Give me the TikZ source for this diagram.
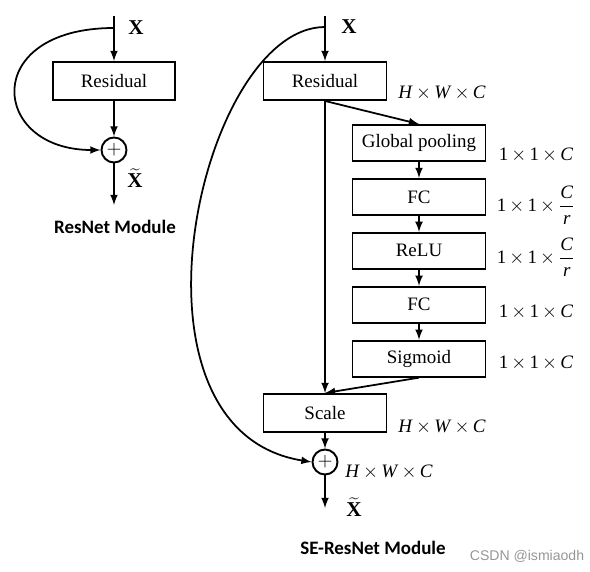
\documentclass[tikz,border=0pt]{standalone}
\usepackage{fontspec}
\setmainfont{Liberation Serif}
\newfontfamily\titlefont{Carlito}
\newfontfamily\markfont{Liberation Sans}
\usepackage{xcolor}
\usetikzlibrary{arrows,positioning,calc}
\definecolor{markgray}{RGB}{150,150,150}
\newcommand{\dimx}{\,$\times$\,}
\newcommand{\hwc}{\textit{H}\dimx\textit{W}\dimx\textit{C}}
\newcommand{\oneC}{1\dimx1\dimx\textit{C}}
\newcommand{\oneCr}{1\dimx1\dimx$\displaystyle\frac{\textit{C}}{\textit{r}}$}

\begin{document}
\begin{tikzpicture}[x=0.02cm,y=-0.02cm, line width=1pt, >=latex,
		font=\fontsize{10.8}{13}\selectfont,
		box/.style={rectangle, draw, line width=1.1pt, minimum height=0.76cm, inner sep=2pt},
		sebox/.style={box, minimum width=2.66cm, minimum height=0.72cm},
		sumnode/.style={circle, draw, line width=1.1pt, minimum size=0.5cm, inner sep=0pt},
		title/.style={font=\titlefont\bfseries\fontsize{10.8}{12}\selectfont}]
	\useasboundingbox (0,0) rectangle (590,571);
	
	% ResNet module
	\coordinate (ltop) at (114,16);
	\coordinate (lfork) at (114,28);
	\node[box, minimum width=2.44cm] (lres) at (114,81) {Residual};
	\node[sumnode] (lsum) at (114,150) {$+$};
	\coordinate (lend) at (114,205);
	\node[font=\fontsize{12}{14}\selectfont] (lx) at (136,28) {\textbf{X}};
	\node[font=\fontsize{12}{14}\selectfont, inner sep=1pt] (lxt) at (135,178) {$\widetilde{\textbf{X}}$};
	\node[title] (ltitle) at (115,227) {ResNet Module};
	
	\draw[->] (ltop) -- (lres);
	\draw[->] (lres) -- (lsum);
	\draw[->] (lsum) -- (lend);
	\draw[->] (lfork) .. controls (-20,28) and (-10,150) .. (lsum.west);
	
	% SE-ResNet module
	\coordinate (rtop) at (325,16);
	\coordinate (rfork) at (325,27);
	\node[box, minimum width=2.46cm] (rres) at (325,81) {Residual};
	\node[sebox] (pool) at (419,143) {Global pooling};
	\node[sebox, below=0.32cm of pool] (fca) {FC};
	\node[sebox, below=0.32cm of fca] (relu) {ReLU};
	\node[sebox, below=0.32cm of relu] (fcb) {FC};
	\node[sebox, below=0.32cm of fcb] (sig) {Sigmoid};
	\node[box, minimum width=2.46cm] (scale) at (325,413) {Scale};
	\node[sumnode] (rsum) at (325,462) {$+$};
	\coordinate (rend) at (325,508);
	\node[font=\fontsize{12}{14}\selectfont] (rx) at (349,27) {\textbf{X}};
	\node[font=\fontsize{12}{14}\selectfont, inner sep=1pt] (rxt) at (354,507) {$\widetilde{\textbf{X}}$};
	\node[title] (rtitle) at (373,548) {SE-ResNet Module};
	
	% sizes
	\node (dres) at (442,93) {\hwc};
	\node (dpool) at (536,155) {\oneC};
	\node (dfca) at (536,205) {\oneCr};
	\node (drelu) at (536,257) {\oneCr};
	\node (dfcb) at (536,312) {\oneC};
	\node (dsig) at (536,363) {\oneC};
	\node (dscale) at (442,427) {\hwc};
	\node (dsum) at (389,472) {\hwc};
	
	\draw[->] (rtop) -- (rres);
	\draw[->] (rres) -- (scale);
	\draw[->] (rres.south) -- (pool.north);
	\draw[->] (pool) -- (fca);
	\draw[->] (fca) -- (relu);
	\draw[->] (relu) -- (fcb);
	\draw[->] (fcb) -- (sig);
	\draw[->] (sig.south) -- (scale.north);
	\draw[->] (scale) -- (rsum);
	\draw[->] (rsum) -- (rend);
	\draw[->] (rfork) .. controls (200,27) and (110,430) .. (rsum.west);
	
	\node[font=\markfont\fontsize{8}{10}\selectfont, text=markgray] (mark) at (527,556) {CSDN @ismiaodh};
\end{tikzpicture}
\end{document}
